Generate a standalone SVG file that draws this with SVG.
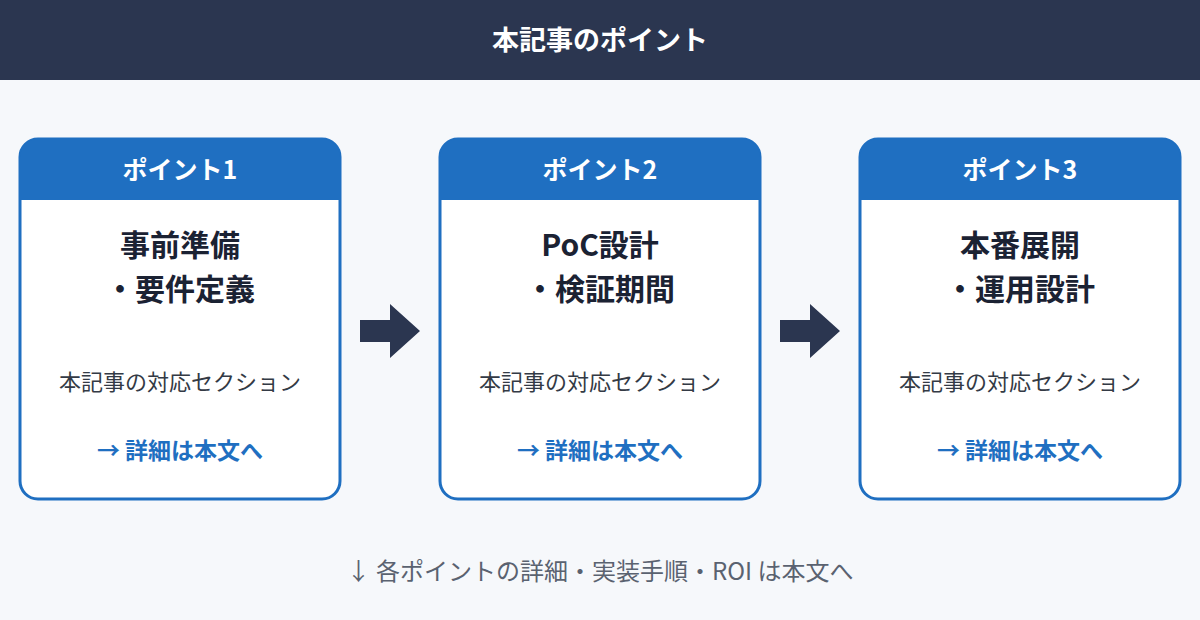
<svg xmlns="http://www.w3.org/2000/svg" width="1200" height="620" viewBox="0 0 1200 620">
<style>
text{font-family:"Noto Sans CJK JP","Noto Sans",sans-serif;text-anchor:middle}
.card{fill:#fff;stroke:#1f6fc1;stroke-width:3}
.hd{fill:#1f6fc1}
.ht{fill:#fff;font-size:25px;font-weight:700}
.tt{fill:#1b2233;font-size:30px;font-weight:700}
.sec{fill:#333a45;font-size:22px}
.lk{fill:#1f6fc1;font-size:23px;font-weight:700}
.ar{fill:#2b3650}
</style>
<rect width="1200" height="620" fill="#f6f8fb"/>
<rect width="1200" height="80" fill="#2b3650"/>
<text x="600" y="50" fill="#fff" font-size="27" font-weight="700">本記事のポイント</text>
<g id="p1">
<rect class="card" x="20" y="139" width="320" height="360" rx="18"/>
<path class="hd" d="M20 200V157a18 18 0 0 1 18-18h284a18 18 0 0 1 18 18v43z"/>
<text class="ht" x="180" y="179">ポイント1</text>
<text class="tt" x="180" y="256">事前準備</text>
<text class="tt" x="180" y="300">・要件定義</text>
<text class="sec" x="180" y="390">本記事の対応セクション</text>
<text class="lk" x="180" y="459">→ 詳細は本文へ</text>
</g>
<g id="p2">
<rect class="card" x="440" y="139" width="320" height="360" rx="18"/>
<path class="hd" d="M440 200V157a18 18 0 0 1 18-18h284a18 18 0 0 1 18 18v43z"/>
<text class="ht" x="600" y="179">ポイント2</text>
<text class="tt" x="600" y="256">PoC設計</text>
<text class="tt" x="600" y="300">・検証期間</text>
<text class="sec" x="600" y="390">本記事の対応セクション</text>
<text class="lk" x="600" y="459">→ 詳細は本文へ</text>
</g>
<g id="p3">
<rect class="card" x="860" y="139" width="320" height="360" rx="18"/>
<path class="hd" d="M860 200V157a18 18 0 0 1 18-18h284a18 18 0 0 1 18 18v43z"/>
<text class="ht" x="1020" y="179">ポイント3</text>
<text class="tt" x="1020" y="256">本番展開</text>
<text class="tt" x="1020" y="300">・運用設計</text>
<text class="sec" x="1020" y="390">本記事の対応セクション</text>
<text class="lk" x="1020" y="459">→ 詳細は本文へ</text>
</g>
<g id="connectors">
<path class="ar" d="M360 320h30v-16l30 27-30 27v-16h-30z"/>
<path class="ar" d="M780 320h30v-16l30 27-30 27v-16h-30z"/>
</g>
<text x="600" y="580" fill="#5a6270" font-size="24">↓ 各ポイントの詳細・実装手順・ROI は本文へ</text>
</svg>
